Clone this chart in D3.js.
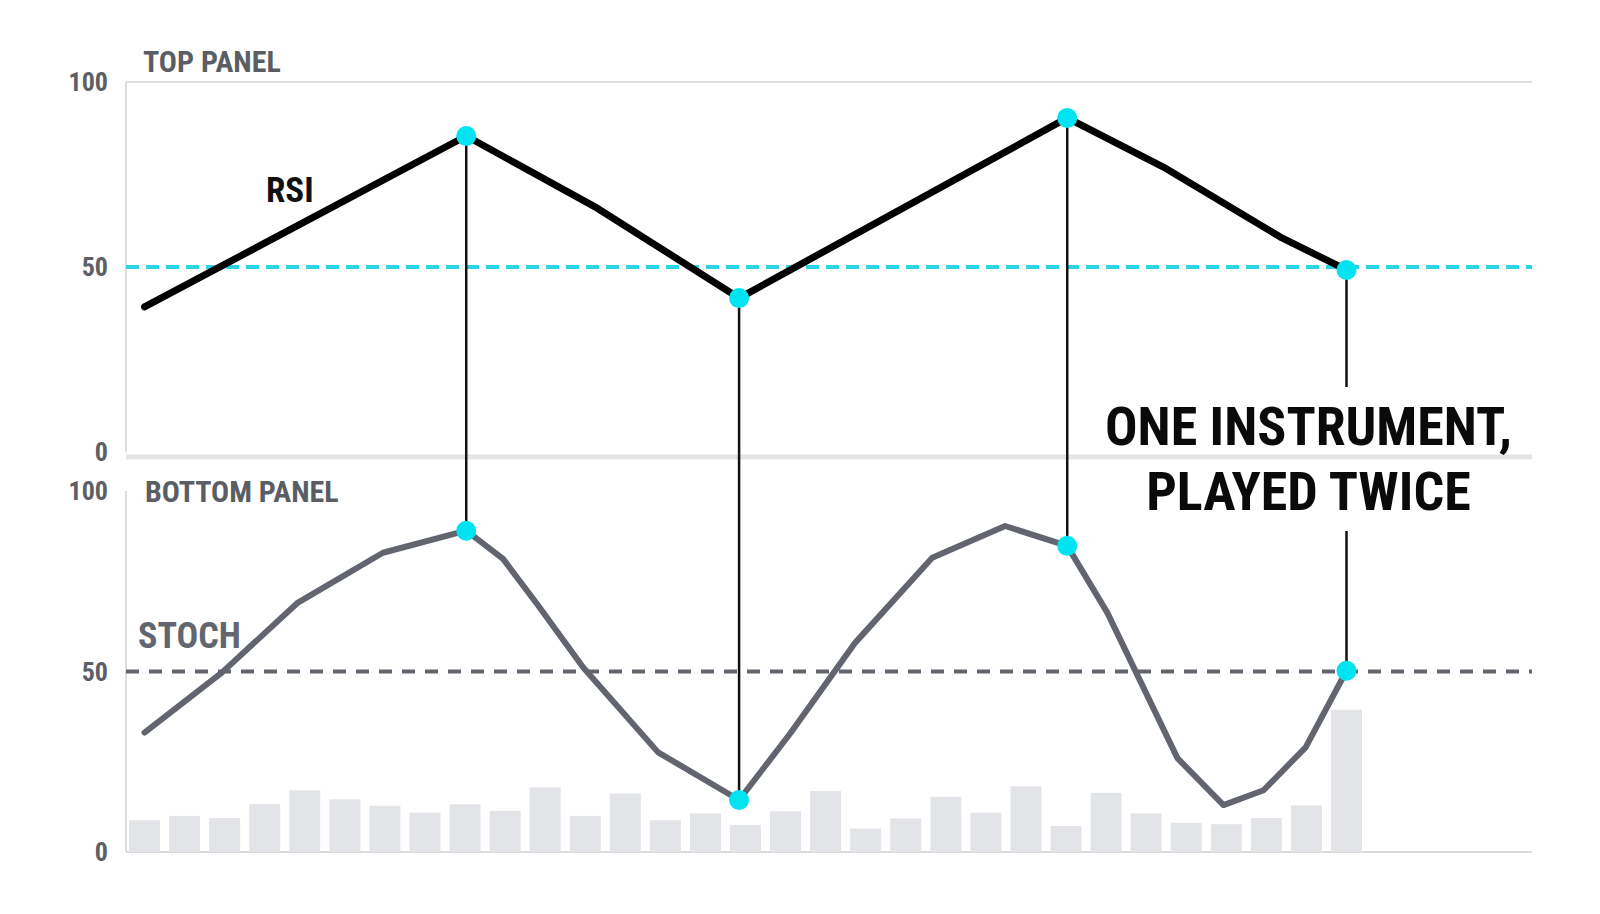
<!DOCTYPE html>
<html lang="en">
<head>
<meta charset="utf-8">
<title>One instrument, played twice</title>
<script src="https://d3js.org/d3.v7.min.js"></script>
<style>
  body { margin: 0; background: #fff; }
  svg text { font-family: "Roboto Condensed", Roboto, "Liberation Sans", sans-serif; font-weight: 700; }
</style>
</head>
<body>
<svg id="chart"></svg>
<script>
var width = 1600,
    height = 914;

// bar volume, one per session (31 sessions, index 0..30)
var volume = [8.8, 10, 9.4, 13.3, 17.1, 14.6, 12.8, 10.9, 13.2, 11.4, 17.9, 10, 16.2, 8.8, 10.7, 7.5,
              11.3, 16.9, 6.5, 9.3, 15.3, 10.9, 18.2, 7.2, 16.4, 10.7, 8.1, 7.7, 9.4, 12.9, 39.4];

// RSI knots: position on session axis, value
var rsiPos = [0, 8.03, 11.3, 14.84, 23.03, 25.43, 28.35, 30];
var rsiVal = [39.2, 85.4, 65.9, 41.6, 90.3, 77.0, 58.1, 49.2];

// Stochastic knots
var stochPos = [0, 1.93, 3.83, 5.95, 8.03, 8.95, 9.83, 10.95, 12.82, 14.84, 16.12, 17.74,
                19.66, 21.48, 23.03, 24.03, 25.78, 26.93, 27.93, 28.98, 30];
var stochVal = [33.1, 49.7, 69.1, 82.9, 89.0, 81.2, 68.2, 51.1, 27.6, 14.4, 32.9, 58.0,
                81.5, 90.3, 84.8, 66.3, 26.0, 13.0, 17.1, 29.0, 50.2];

// matched swing points shared by both panels
var swingPos = [8.03, 14.84, 23.03, 30];

var yTicks = [0, 50, 100];
var midLine = 50;

var rsi = rsiPos.map(function(p, i) { return {pos: p, v: rsiVal[i]}; });
var stoch = stochPos.map(function(p, i) { return {pos: p, v: stochVal[i]}; });

var svg = d3.select("#chart")
    .attr("width", width)
    .attr("height", height);

var plotLeft = 126, plotRight = 1532;

var x = d3.scaleLinear().domain([0, 30]).range([144.5, 1346.5]);
var yTop = d3.scaleLinear().domain([0, 100]).range([452, 82]);
var yBot = d3.scaleLinear().domain([0, 100]).range([852, 491]);

var barWidth = 31;

// frame lines
svg.append("line")
    .attr("x1", plotLeft).attr("x2", plotRight)
    .attr("y1", yTop(100)).attr("y2", yTop(100))
    .attr("stroke", "#dedede").attr("stroke-width", 2);
svg.append("line")
    .attr("x1", plotLeft).attr("x2", plotLeft)
    .attr("y1", yTop(100)).attr("y2", yTop(0))
    .attr("stroke", "#dedede").attr("stroke-width", 2);
svg.append("line")
    .attr("x1", plotLeft).attr("x2", plotLeft)
    .attr("y1", yBot(100)).attr("y2", yBot(0))
    .attr("stroke", "#dedede").attr("stroke-width", 2);
svg.append("line")
    .attr("x1", plotLeft).attr("x2", plotRight)
    .attr("y1", yTop(0) + 5).attr("y2", yTop(0) + 5)
    .attr("stroke", "#e4e4e4").attr("stroke-width", 5);
svg.append("line")
    .attr("x1", plotLeft).attr("x2", plotRight)
    .attr("y1", yBot(0)).attr("y2", yBot(0))
    .attr("stroke", "#dadada").attr("stroke-width", 2);

// tick labels
function ticks(scale) {
    svg.append("g").selectAll("text")
        .data(yTicks)
        .enter().append("text")
        .attr("x", plotLeft - 18)
        .attr("y", function(d) { return scale(d); })
        .attr("dy", "0.36em")
        .attr("text-anchor", "end")
        .attr("font-size", 26)
        .attr("fill", "#5c6066")
        .text(function(d) { return d; });
}
ticks(yTop);
ticks(yBot);

// volume bars
svg.append("g").selectAll("rect")
    .data(volume)
    .enter().append("rect")
    .attr("x", function(d, i) { return x(i) - barWidth / 2; })
    .attr("y", function(d) { return yBot(d); })
    .attr("width", barWidth)
    .attr("height", function(d) { return yBot(0) - yBot(d); })
    .attr("fill", "#e2e4e7");

// 50 lines
svg.append("line")
    .attr("x1", plotLeft).attr("x2", plotRight)
    .attr("y1", yTop(midLine)).attr("y2", yTop(midLine))
    .attr("stroke", "#2ad3e6").attr("stroke-width", 4)
    .attr("stroke-dasharray", "13 7");
svg.append("line")
    .attr("x1", plotLeft).attr("x2", plotRight)
    .attr("y1", yBot(midLine)).attr("y2", yBot(midLine))
    .attr("stroke", "#62656e").attr("stroke-width", 4)
    .attr("stroke-dasharray", "13 10");

// lines
var rsiLine = d3.line().x(function(d) { return x(d.pos); }).y(function(d) { return yTop(d.v); });
var stochLine = d3.line().x(function(d) { return x(d.pos); }).y(function(d) { return yBot(d.v); });

svg.append("path")
    .datum(rsi)
    .attr("d", rsiLine)
    .attr("fill", "none")
    .attr("stroke", "#000")
    .attr("stroke-width", 7)
    .attr("stroke-linecap", "round")
    .attr("stroke-linejoin", "round");

svg.append("path")
    .datum(stoch)
    .attr("d", stochLine)
    .attr("fill", "none")
    .attr("stroke", "#62656f")
    .attr("stroke-width", 6)
    .attr("stroke-linecap", "round")
    .attr("stroke-linejoin", "round");

// labels
svg.append("text")
    .attr("x", plotLeft + 17).attr("y", 72)
    .attr("font-size", 30).attr("fill", "#5a5e64")
    .text("TOP PANEL");
svg.append("text")
    .attr("x", plotLeft + 19).attr("y", 502)
    .attr("font-size", 30).attr("fill", "#5a5e64")
    .text("BOTTOM PANEL");
svg.append("text")
    .attr("x", x(3.03)).attr("y", yTop(67.6))
    .attr("font-size", 35).attr("fill", "#111")
    .text("RSI");
svg.append("text")
    .attr("x", plotLeft + 12).attr("y", yBot(56.4))
    .attr("font-size", 36).attr("fill", "#62666e")
    .text("STOCH");

// annotation
var note = svg.append("g");
var noteX = x(29.05);
["ONE INSTRUMENT,", "PLAYED TWICE"].forEach(function(t, i) {
    note.append("text")
        .attr("x", noteX)
        .attr("y", 445 + i * 65)
        .attr("text-anchor", "middle")
        .attr("font-size", 54)
        .attr("fill", "#0a0a0a")
        .text(t);
});
var nb = note.node().getBBox();

// connectors between matched swings
swingPos.forEach(function(p) {
    var top = yTop(rsiVal[rsiPos.indexOf(p)]);
    var bot = yBot(stochVal[stochPos.indexOf(p)]);
    var xp = x(p);
    var segs = [[top, bot]];
    if (xp > nb.x && xp < nb.x + nb.width) {
        segs = [[top, nb.y - 8], [nb.y + nb.height + 8, bot]];
    }
    segs.forEach(function(s) {
        svg.append("line")
            .attr("x1", xp).attr("x2", xp)
            .attr("y1", s[0]).attr("y2", s[1])
            .attr("stroke", "#111").attr("stroke-width", 2.5);
    });
});

// dots
var dots = [];
swingPos.forEach(function(p) {
    dots.push({pos: p, y: yTop(rsiVal[rsiPos.indexOf(p)])});
    dots.push({pos: p, y: yBot(stochVal[stochPos.indexOf(p)])});
});
svg.append("g").selectAll("circle")
    .data(dots)
    .enter().append("circle")
    .attr("cx", function(d) { return x(d.pos); })
    .attr("cy", function(d) { return d.y; })
    .attr("r", 10)
    .attr("fill", "#00e4f2");

note.raise();
</script>
</body>
</html>
